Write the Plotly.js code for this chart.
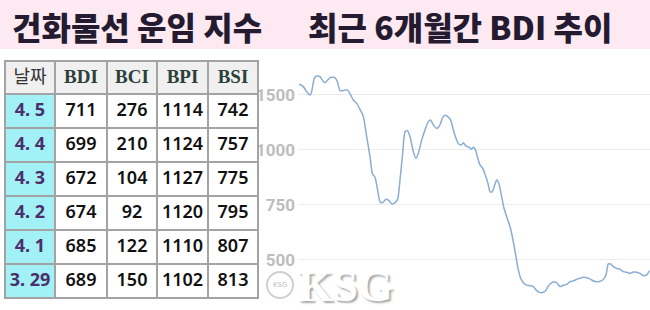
<!DOCTYPE html>
<html><head><meta charset="utf-8">
<script src="https://cdn.plot.ly/plotly-3.0.1.min.js"></script>
<style>html,body{margin:0;padding:0;background:#fff}#c{width:650px;height:310px}</style>
</head><body><div id="c"></div>
<script>
// Table data
const tableHeader = ["날짜", "BDI", "BCI", "BPI", "BSI"];
const dates = ["4.\u00a05", "4.\u00a04", "4.\u00a03", "4.\u00a02", "4.\u00a01", "3.\u00a029"];
const bdi = [711, 699, 672, 674, 685, 689];
const bci = [276, 210, 104, 92, 122, 150];
const bpi = [1114, 1124, 1127, 1120, 1110, 1102];
const bsi = [742, 757, 775, 795, 807, 813];

// BDI line (last 6 months) in the chart's own axis units
const t = [118,130,140,150,155,163,170,180,188,195,205,212,225,232,240,250,262,272,280,290,300,310,320,330,337,345,352,360,368,378,387,395,405,413,420,428,435,442,450,460,468,475,485,495,505,512,520,530,540,548,556,563,572,580,588,596,604,610,618,628,634,640,646,652,660,668,676,684,690,697,703,710,716,724,732,740,750,760,768,775,782,790,800,810,820,828,838,848,856,862,870,880,890,900,910,920,930,940,950,960,970,985,995,1005,1018,1028,1038,1045,1052,1060,1070,1080,1090,1100,1110,1120,1130,1140,1150,1160,1168];
const bdiLine = [1300,1288,1265,1250,1265,1326,1336,1333,1315,1306,1321,1330,1329,1311,1270,1270,1273,1250,1227,1212,1185,1152,1061,970,894,876,826,765,761,776,770,755,761,776,864,985,1083,1088,1061,992,962,985,1045,1091,1129,1136,1114,1098,1114,1148,1158,1152,1136,1091,1053,1027,1023,1033,1018,1012,1003,1012,1003,970,932,917,886,848,811,811,836,864,851,795,735,697,652,583,515,455,417,397,386,383,379,364,353,352,359,374,391,400,397,379,385,389,402,405,412,417,421,417,409,402,402,409,432,482,482,470,462,458,447,444,439,445,444,439,429,432,452];

const yTickVals = [500, 750, 1000, 1250];
const yTickText = ["500", "750", "1000", "1500"];

const W = 650, H = 310;
const px = v => v / W, py = v => 1 - v / H;

const table = {
  type: 'table',
  domain: {x: [px(5), px(258)], y: [py(299), py(61)]},
  columnwidth: [50, 52, 50, 51, 50],
  header: {
    values: tableHeader,
    height: 33,
    align: 'center',
    fill: {color: '#f0f0f0'},
    line: {color: '#a3a3a3', width: 1.2},
    font: {family: ['Noto Sans CJK KR', 'Liberation Serif', 'Liberation Serif', 'Liberation Serif', 'Liberation Serif'],
           size: [18, 19, 19, 19, 19], color: ['#333333', '#2c4038', '#2c4038', '#2c4038', '#2c4038'],
           weight: ['normal', 'bold', 'bold', 'bold', 'bold']}
  },
  cells: {
    values: [dates, bdi, bci, bpi, bsi],
    height: 34,
    align: 'center',
    fill: {color: ['#a2f1f6', '#ffffff', '#ffffff', '#ffffff', '#ffffff']},
    line: {color: '#a3a3a3', width: 1.2},
    font: {family: 'Noto Sans', size: 18,
           color: ['#4a2f6a', '#111111', '#111111', '#111111', '#111111'],
           weight: ['bold', 600, 600, 600, 600]}
  }
};

const line = {
  type: 'scatter', mode: 'lines', x: t, y: bdiLine,
  line: {color: '#8aadd1', width: 1.5, shape: 'spline', smoothing: 0.6},
  hoverinfo: 'skip', showlegend: false
};

const layout = {
  width: W, height: H,
  margin: {l: 0, r: 0, t: 0, b: 0},
  paper_bgcolor: '#ffffff', plot_bgcolor: 'rgba(0,0,0,0)',
  showlegend: false,
  xaxis: {domain: [px(298), 1], range: [114, 1170], visible: false, fixedrange: true},
  yaxis: {domain: [0, py(50)], range: [272.7, 1454.5], tickmode: 'array', tickvals: yTickVals, ticktext: yTickText,
          showgrid: true, gridcolor: '#ececec', gridwidth: 1, zeroline: false, showline: false, ticks: '',
          ticklabelstandoff: 2,
          tickfont: {family: 'Roboto', size: 17, color: '#bdbdbd', weight: 'bold'}},
  shapes: [
    {type: 'rect', xref: 'paper', yref: 'paper', x0: 0, x1: 1, y0: py(49), y1: 1, fillcolor: '#fce9f1', line: {width: 0}, layer: 'below'},
    {type: 'circle', xref: 'paper', yref: 'paper', x0: px(267), x1: px(293), y0: py(298), y1: py(272), fillcolor: 'rgba(255,255,255,0.9)', line: {color: '#d0d0d0', width: 2}}
  ],
  annotations: [
    {xref: 'paper', yref: 'paper', x: px(10), y: py(26), xanchor: 'left', yanchor: 'middle', showarrow: false,
     text: '건화물선 운임 지수', font: {family: 'Noto Sans CJK KR', size: 32, color: '#251b30', weight: 900}},
    {xref: 'paper', yref: 'paper', x: px(306), y: py(26), xanchor: 'left', yanchor: 'middle', showarrow: false,
     text: '최근 6개월간 BDI 추이', font: {family: 'Noto Sans CJK KR', size: 32, color: '#251b30', weight: 900}},
    {xref: 'paper', yref: 'paper', x: px(280), y: py(285), xanchor: 'center', yanchor: 'middle', showarrow: false,
     text: 'KSG', font: {family: 'DejaVu Sans', size: 7, color: '#c0c0c0'}},
    {xref: 'paper', yref: 'paper', x: px(296), y: py(286), xanchor: 'left', yanchor: 'middle', showarrow: false,
     text: 'KSG', font: {family: 'Liberation Serif', size: 45, color: '#ffffff', weight: 'bold', shadow: '2px 2px 2px #a8a8a8'}}
  ]
};

Plotly.newPlot('c', [table, line], layout, {staticPlot: true, displayModeBar: false});
</script></body></html>
